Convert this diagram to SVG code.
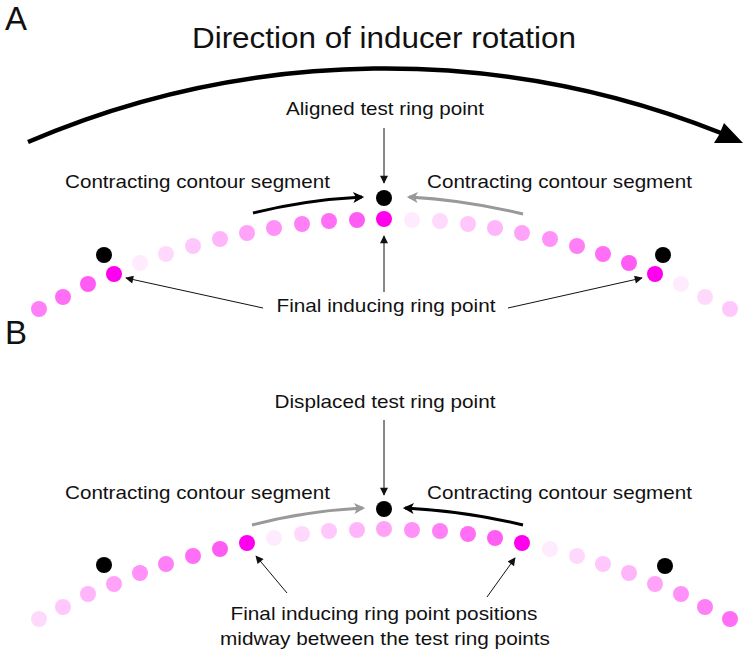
<svg xmlns="http://www.w3.org/2000/svg" width="750" height="655" viewBox="0 0 750 655">
<defs>
<style>
text{font-family:"Liberation Sans",Arial,sans-serif;fill:#111}
.lbl{font-size:19px}
.thin{stroke:#111;stroke-width:1;fill:none}
.blk{stroke:#000;stroke-width:3;fill:none}
.gry{stroke:#999;stroke-width:3;fill:none}
.m{fill:#ff00ee}
.b{fill:#000}
</style>
<marker id="ah" viewBox="0 0 10 10" refX="9" refY="5" markerWidth="10" markerHeight="8" markerUnits="userSpaceOnUse" orient="auto"><path d="M0,0 L10,5 L0,10 z" fill="#111"/></marker>
<marker id="ahB" viewBox="0 0 10 10" refX="8" refY="5" markerWidth="14" markerHeight="11" markerUnits="userSpaceOnUse" orient="auto"><path d="M0,0 L10,5 L0,10 L2.5,5 z" fill="#000"/></marker>
<marker id="ahG" viewBox="0 0 10 10" refX="8" refY="5" markerWidth="14" markerHeight="11" markerUnits="userSpaceOnUse" orient="auto"><path d="M0,0 L10,5 L0,10 L2.5,5 z" fill="#999"/></marker>
</defs>
<rect width="750" height="655" fill="#fff"/>

<g id="panelA">
<text x="5" y="30" font-size="33">A</text>
<text id="title" x="384" y="48" font-size="30" text-anchor="middle" textLength="384" lengthAdjust="spacingAndGlyphs">Direction of inducer rotation</text>
<g id="rotation-arrow">
<path d="M28,142 A906,906 0 0 1 721,133" stroke="#000" stroke-width="4.5" fill="none"/>
<path d="M743,143 L714,143 L719,135 L724,123 z" fill="#000"/>
</g>
<g id="ringA">
<circle cx="39" cy="309" r="8" class="m" fill-opacity="0.5"/>
<circle cx="63" cy="297" r="8" class="m" fill-opacity="0.57"/>
<circle cx="88" cy="284" r="8" class="m" fill-opacity="0.64"/>
<circle cx="114" cy="274" r="8" class="m"/>
<circle cx="140" cy="263" r="8" class="m" fill-opacity="0.08"/>
<circle cx="166" cy="254" r="8" class="m" fill-opacity="0.15"/>
<circle cx="193" cy="246" r="8" class="m" fill-opacity="0.22"/>
<circle cx="220" cy="239" r="8" class="m" fill-opacity="0.29"/>
<circle cx="247" cy="233" r="8" class="m" fill-opacity="0.36"/>
<circle cx="274" cy="228" r="8" class="m" fill-opacity="0.43"/>
<circle cx="302" cy="224" r="8" class="m" fill-opacity="0.5"/>
<circle cx="329" cy="221" r="8" class="m" fill-opacity="0.57"/>
<circle cx="357" cy="220" r="8" class="m" fill-opacity="0.64"/>
<circle cx="384" cy="219" r="8" class="m"/>
<circle cx="412" cy="220" r="8" class="m" fill-opacity="0.08"/>
<circle cx="440" cy="221" r="8" class="m" fill-opacity="0.15"/>
<circle cx="468" cy="224" r="8" class="m" fill-opacity="0.22"/>
<circle cx="495" cy="228" r="8" class="m" fill-opacity="0.29"/>
<circle cx="522" cy="233" r="8" class="m" fill-opacity="0.36"/>
<circle cx="550" cy="239" r="8" class="m" fill-opacity="0.43"/>
<circle cx="577" cy="246" r="8" class="m" fill-opacity="0.5"/>
<circle cx="603" cy="254" r="8" class="m" fill-opacity="0.57"/>
<circle cx="629" cy="263" r="8" class="m" fill-opacity="0.64"/>
<circle cx="655" cy="274" r="8" class="m"/>
<circle cx="681" cy="284" r="8" class="m" fill-opacity="0.08"/>
<circle cx="705" cy="297" r="8" class="m" fill-opacity="0.15"/>
<circle cx="730" cy="309" r="8" class="m" fill-opacity="0.22"/>
</g>
<g id="testA">
<circle cx="104" cy="255" r="8" class="b"/>
<circle cx="384" cy="198" r="8" class="b"/>
<circle cx="663" cy="255" r="8" class="b"/>
</g>
<text class="lbl" x="385" y="115" text-anchor="middle" textLength="198" lengthAdjust="spacingAndGlyphs">Aligned test ring point</text>
<text class="lbl" x="65" y="188" textLength="265" lengthAdjust="spacingAndGlyphs">Contracting contour segment</text>
<text class="lbl" x="427" y="188" textLength="265" lengthAdjust="spacingAndGlyphs">Contracting contour segment</text>
<text class="lbl" x="386" y="312" text-anchor="middle" textLength="219" lengthAdjust="spacingAndGlyphs">Final inducing ring point</text>
</g>

<g id="panelB">
<text x="5" y="344" font-size="33">B</text>
<g id="ringB">
<circle cx="39" cy="619" r="8" class="m" fill-opacity="0.15"/>
<circle cx="63" cy="607" r="8" class="m" fill-opacity="0.22"/>
<circle cx="88" cy="594" r="8" class="m" fill-opacity="0.29"/>
<circle cx="114" cy="584" r="8" class="m" fill-opacity="0.36"/>
<circle cx="140" cy="573" r="8" class="m" fill-opacity="0.43"/>
<circle cx="166" cy="564" r="8" class="m" fill-opacity="0.5"/>
<circle cx="193" cy="556" r="8" class="m" fill-opacity="0.57"/>
<circle cx="220" cy="549" r="8" class="m" fill-opacity="0.64"/>
<circle cx="247" cy="543" r="8" class="m"/>
<circle cx="274" cy="538" r="8" class="m" fill-opacity="0.08"/>
<circle cx="302" cy="534" r="8" class="m" fill-opacity="0.15"/>
<circle cx="329" cy="531" r="8" class="m" fill-opacity="0.22"/>
<circle cx="357" cy="530" r="8" class="m" fill-opacity="0.29"/>
<circle cx="384" cy="529" r="8" class="m" fill-opacity="0.36"/>
<circle cx="412" cy="530" r="8" class="m" fill-opacity="0.43"/>
<circle cx="440" cy="531" r="8" class="m" fill-opacity="0.5"/>
<circle cx="468" cy="534" r="8" class="m" fill-opacity="0.57"/>
<circle cx="495" cy="538" r="8" class="m" fill-opacity="0.64"/>
<circle cx="522" cy="543" r="8" class="m"/>
<circle cx="550" cy="549" r="8" class="m" fill-opacity="0.08"/>
<circle cx="577" cy="556" r="8" class="m" fill-opacity="0.15"/>
<circle cx="603" cy="564" r="8" class="m" fill-opacity="0.22"/>
<circle cx="629" cy="573" r="8" class="m" fill-opacity="0.29"/>
<circle cx="655" cy="584" r="8" class="m" fill-opacity="0.36"/>
<circle cx="681" cy="594" r="8" class="m" fill-opacity="0.43"/>
<circle cx="705" cy="607" r="8" class="m" fill-opacity="0.5"/>
<circle cx="730" cy="619" r="8" class="m" fill-opacity="0.57"/>
</g>
<g id="testB">
<circle cx="104" cy="565" r="8" class="b"/>
<circle cx="384" cy="509" r="8" class="b"/>
<circle cx="665" cy="566" r="8" class="b"/>
</g>
<text class="lbl" x="385" y="408" text-anchor="middle" textLength="221" lengthAdjust="spacingAndGlyphs">Displaced test ring point</text>
<text class="lbl" x="65" y="499" textLength="265" lengthAdjust="spacingAndGlyphs">Contracting contour segment</text>
<text class="lbl" x="427" y="499" textLength="265" lengthAdjust="spacingAndGlyphs">Contracting contour segment</text>
<text class="lbl" x="384" y="620" text-anchor="middle" textLength="307" lengthAdjust="spacingAndGlyphs">Final inducing ring point positions</text>
<text class="lbl" x="385" y="645" text-anchor="middle" textLength="330" lengthAdjust="spacingAndGlyphs">midway between the test ring points</text>
</g>

<g id="connectors">
<line class="thin" x1="384" y1="128" x2="384" y2="183" marker-end="url(#ah)"/>
<line class="thin" x1="384" y1="292" x2="384" y2="236" marker-end="url(#ah)"/>
<line class="thin" x1="263" y1="308" x2="126" y2="278" marker-end="url(#ah)"/>
<line class="thin" x1="508" y1="308" x2="642" y2="278" marker-end="url(#ah)"/>
<path class="blk" d="M253,213 Q305,200 362,197" marker-end="url(#ahB)"/>
<path class="gry" d="M523,214 Q465,200 409,197" marker-end="url(#ahG)"/>
<line class="thin" x1="384" y1="420" x2="384" y2="495" marker-end="url(#ah)"/>
<path class="gry" d="M252,525 Q305,511 363,508" marker-end="url(#ahG)"/>
<path class="blk" d="M523,525 Q465,511 405,508" marker-end="url(#ahB)"/>
<line class="thin" x1="287" y1="593" x2="256" y2="556" marker-end="url(#ah)"/>
<line class="thin" x1="487" y1="597" x2="515" y2="558" marker-end="url(#ah)"/>
</g>
</svg>
